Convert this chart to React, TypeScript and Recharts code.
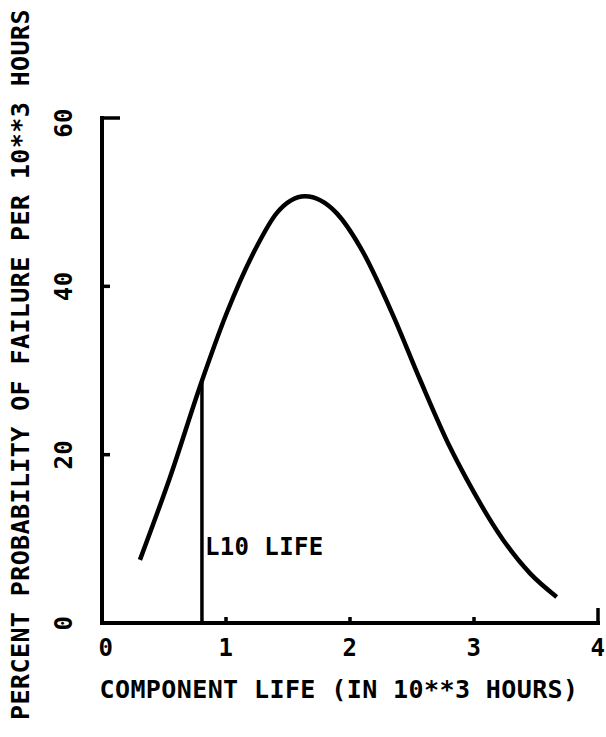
import { LineChart, Line, XAxis, YAxis, ReferenceLine, ReferenceDot } from 'recharts';

// component life, 10**3 hours
const lifeX = [0.306, 0.548, 0.804, 1.005, 1.247, 1.409, 1.637, 1.892, 2.081, 2.349, 2.565, 2.806, 2.944, 3.234, 3.452, 3.667];
// percent probability of failure per 10**3 hours
const failPct = [7.5, 17.3, 28.7, 36.8, 44.7, 48.7, 50.7, 48.7, 44.7, 36.5, 28.9, 20.9, 17.0, 9.9, 5.9, 3.1];

const xTicks = [0, 1, 2, 3, 4];
const yTicks = [0, 20, 40, 60];

const L10_X = 0.806;
const L10_Y = 28.6;

const data = lifeX.map((x, i) => ({ x, y: failPct[i] }));

const FONT = '"DejaVu Sans Mono", monospace';
const txt = { fontFamily: FONT, fontWeight: 700, fill: '#000', letterSpacing: 0.4 } as const;

function XTick(props: any) {
  const { x, y, payload } = props;
  const v = payload.value;
  const len = v === 0 ? 0 : v === 4 ? 15 : 6;
  return (
    <g>
      {len > 0 && <line x1={x} y1={y} x2={x} y2={y - len} stroke="#000" strokeWidth={3.5} />}
      <text x={x + (v === 0 ? 4 : 0)} y={y + 25} textAnchor="middle" dominantBaseline="central" fontSize={24} {...txt}>
        {v}
      </text>
    </g>
  );
}

function YTick(props: any) {
  const { x, y, payload } = props;
  const v = payload.value;
  const len = v === 0 ? 0 : v === 60 ? 18 : 8;
  const lx = 64;
  const ly = y + (v === 60 ? 5 : 0);
  return (
    <g>
      {len > 0 && <line x1={x} y1={y} x2={x + len} y2={y} stroke="#000" strokeWidth={3.5} />}
      <text
        x={lx}
        y={ly}
        transform={`rotate(-90, ${lx}, ${ly})`}
        textAnchor="middle"
        dominantBaseline="central"
        fontSize={24}
        {...txt}
      >
        {v}
      </text>
    </g>
  );
}

export default function App() {
  return (
    <div style={{ position: 'absolute', left: 0, top: 0, width: 606, height: 737, background: '#fff' }}>
      <LineChart width={606} height={737} data={data} margin={{ top: 118, right: 8, left: 0, bottom: 0 }}>
        <XAxis
          type="number"
          dataKey="x"
          domain={[0, 4]}
          ticks={xTicks}
          height={114}
          tickSize={0}
          tickMargin={0}
          tickLine={false}
          axisLine={{ stroke: '#000', strokeWidth: 4, strokeLinecap: 'square' }}
          tick={<XTick />}
          label={{
            content: (p: any) => {
              const vb = p.viewBox;
              return (
                <text x={vb.x + vb.width / 2 - 11} y={vb.y + 66} textAnchor="middle" dominantBaseline="central" fontSize={25} {...txt}>
                  COMPONENT LIFE (IN 10**3 HOURS)
                </text>
              );
            },
          }}
        />
        <YAxis
          type="number"
          domain={[0, 60]}
          ticks={yTicks}
          width={102}
          tickSize={0}
          tickMargin={0}
          tickLine={false}
          axisLine={{ stroke: '#000', strokeWidth: 4, strokeLinecap: 'square' }}
          tick={<YTick />}
          label={{
            content: (p: any) => {
              const vb = p.viewBox;
              const cx = 20;
              const cy = vb.y + vb.height / 2 - 6;
              return (
                <text x={cx} y={cy} transform={`rotate(-90, ${cx}, ${cy})`} textAnchor="middle" dominantBaseline="central" fontSize={25} {...txt}>
                  PERCENT PROBABILITY OF FAILURE PER 10**3 HOURS
                </text>
              );
            },
          }}
        />
        <ReferenceLine
          segment={[{ x: L10_X, y: 0 }, { x: L10_X, y: L10_Y }]}
          stroke="#000"
          strokeWidth={3.5}
        />
        <ReferenceDot
          x={0.83}
          y={9}
          r={0}
          shape={(p: any) => (
            <text x={p.cx} y={p.cy} dominantBaseline="central" fontSize={24} {...txt}>
              L10 LIFE
            </text>
          )}
        />
        <Line
          type="monotone"
          dataKey="y"
          stroke="#000"
          strokeWidth={4.5}
          dot={false}
          isAnimationActive={false}
        />
      </LineChart>
    </div>
  );
}
